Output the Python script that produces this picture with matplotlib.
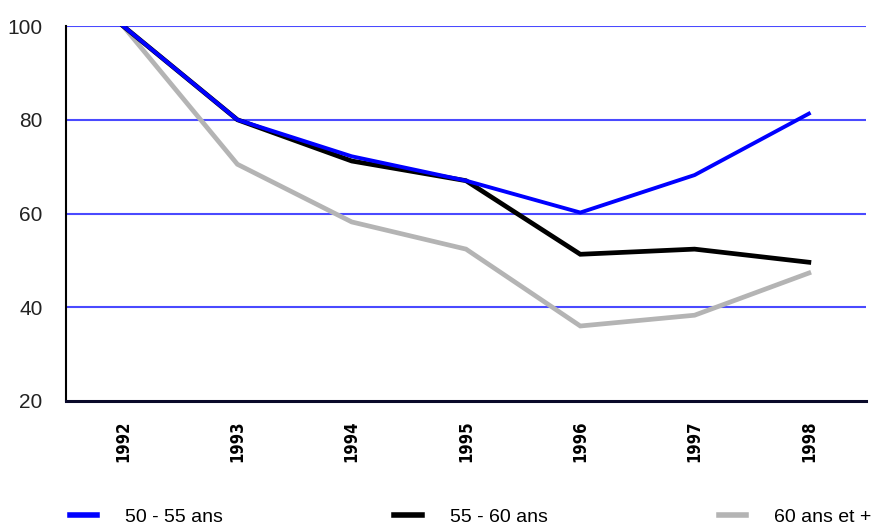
import matplotlib
matplotlib.use("Agg")
import matplotlib.pyplot as plt

years = ["1992", "1993", "1994", "1995", "1996", "1997", "1998"]
s_50_55 = [100, 80, 72.2, 67, 60.2, 68.2, 81.3]
s_55_60 = [100, 80, 71.2, 67, 51.3, 52.4, 49.6]
s_60p = [100, 70.5, 58.2, 52.4, 36.0, 38.3, 47.3]
labels = ["50 - 55 ans", "55 - 60 ans", "60 ans et +"]
yticks = [20, 40, 60, 80, 100]

W, H = 876, 527
fig = plt.figure(figsize=(W / 100, H / 100), dpi=100)
ax = fig.add_axes([66 / W, 1 - 401 / H, 800 / W, 375 / H])

x = list(range(len(years)))
ax.plot(x, s_60p, color="#b4b4b4", lw=3.4, solid_joinstyle="miter", zorder=3, label=labels[2])
ax.plot(x, s_55_60, color="#000000", lw=3.4, solid_joinstyle="miter", zorder=4, label=labels[1])
ax.plot(x, s_50_55, color="#0000ff", lw=2.8, solid_joinstyle="miter", zorder=5, label=labels[0])

for g in [40, 60, 80, 100]:
    ax.axhline(g, color="#4a4aff", lw=1.5, zorder=1)

ax.set_xlim(-0.5, len(years) - 0.5)
ax.set_ylim(20, 100)
ax.set_yticks(yticks)
ax.set_yticklabels([str(v) for v in yticks], fontsize=15, family="Liberation Sans", color="#222222")
ax.set_xticks(x)
ax.set_xticklabels(years, rotation=90, fontsize=12, fontweight="bold",
                   family="DejaVu Sans", fontstretch="condensed", va="top", ha="center")
ax.tick_params(axis="y", length=0, pad=17)
ax.tick_params(axis="x", length=0, pad=14)

for s in ["top", "right"]:
    ax.spines[s].set_visible(False)
ax.spines["left"].set_color("black")
ax.spines["left"].set_linewidth(1.5)
ax.spines["bottom"].set_color("#0a0a2a")
ax.spines["bottom"].set_linewidth(2.2)
ax.spines["left"].set_zorder(6)
ax.spines["bottom"].set_zorder(6)

handles, labs = ax.get_legend_handles_labels()
order = [2, 1, 0]
leg = fig.legend([handles[i] for i in order], [labs[i] for i in order],
                 loc="center left", bbox_to_anchor=(70 / W, 1 - 517 / H), ncol=3,
                 frameon=False, prop={"family": "Liberation Sans", "size": 14},
                 handlelength=1.4, handletextpad=1.45, columnspacing=8.8,
                 borderaxespad=0, borderpad=0)
for lh in leg.get_lines():
    lh.set_linewidth(4)

fig.savefig("out.png", dpi=100, facecolor="white")
